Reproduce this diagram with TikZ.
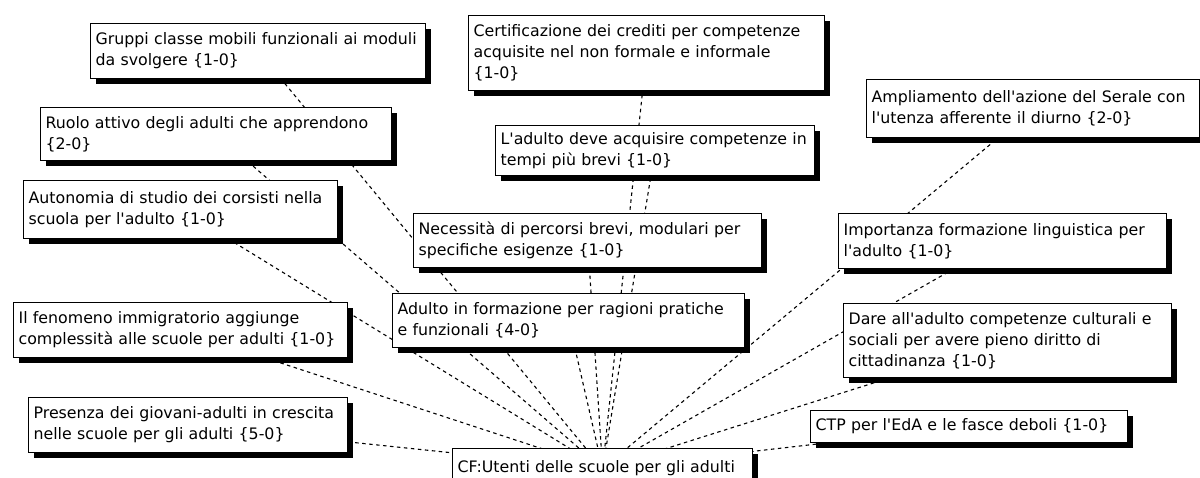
\documentclass[tikz,border=0pt]{standalone}
\usepackage{fontspec}
\setmainfont{DejaVu Sans}
\usetikzlibrary{shadows,backgrounds}
\newcommand\ap{\textquotesingle}
\begin{document}
\begin{tikzpicture}[x=1pt,y=-1pt,
  code/.style={draw=black, line width=1.2pt, fill=white, anchor=north west,
    align=left, inner xsep=5pt, inner ysep=0pt,
    font=\fontsize{15.8}{21}\selectfont,
    general shadow={fill=black, shadow xshift=5pt, shadow yshift=-5pt}},
  link/.style={black, line width=1.1pt, dash pattern=on 3.5pt off 3.5pt}]
\useasboundingbox (0,0) rectangle (1200,477);
\clip (0,0) rectangle (1200,477);

% code family node
\node[code, minimum width=298pt, minimum height=40pt, text width=290pt] (cf) at (452,448)
  {CF:Utenti delle scuole per gli adulti};

% member codes
\node[code, minimum width=331pt, minimum height=55pt, text width=325pt] (gruppi) at (90,23)
  {Gruppi classe mobili funzionali ai moduli\\da svolgere \{1-0\}};
\node[code, minimum width=352pt, minimum height=75pt, text width=346pt] (cert) at (468,15)
  {Certificazione dei crediti per competenze\\acquisite nel non formale e informale\\\{1-0\}};
\node[code, minimum width=347pt, minimum height=53pt, text width=341pt] (ruolo) at (40,107)
  {Ruolo attivo degli adulti che apprendono\\\{2-0\}};
\node[code, minimum width=315pt, minimum height=50pt, text width=309pt] (tempi) at (495,125)
  {L\ap adulto deve acquisire competenze in\\tempi più brevi \{1-0\}};
\node[code, minimum width=329pt, minimum height=58pt, text width=323pt] (serale) at (866,79)
  {Ampliamento dell\ap azione del Serale con\\l\ap utenza afferente il diurno \{2-0\}};
\node[code, minimum width=310pt, minimum height=58pt, text width=304pt] (auto) at (23,180)
  {Autonomia di studio dei corsisti nella\\scuola per l\ap adulto \{1-0\}};
\node[code, minimum width=344pt, minimum height=54pt, text width=338pt] (percorsi) at (413,213)
  {Necessità di percorsi brevi, modulari per\\specifiche esigenze \{1-0\}};
\node[code, minimum width=324pt, minimum height=55pt, text width=318pt] (lingua) at (838,213)
  {Importanza formazione linguistica per\\l\ap adulto \{1-0\}};
\node[code, minimum width=348pt, minimum height=54pt, text width=342pt] (ragioni) at (392,293)
  {Adulto in formazione per ragioni pratiche\\e funzionali \{4-0\}};
\node[code, minimum width=330pt, minimum height=55pt, text width=324pt] (immig) at (13,302)
  {Il fenomeno immigratorio aggiunge\\complessità alle scuole per adulti \{1-0\}};
\node[code, minimum width=324pt, minimum height=74pt, text width=318pt] (citt) at (843,303)
  {Dare all\ap adulto competenze culturali e\\sociali per avere pieno diritto di\\cittadinanza \{1-0\}};
\node[code, minimum width=315pt, minimum height=55pt, text width=309pt] (giovani) at (28,397)
  {Presenza dei giovani-adulti in crescita\\nelle scuole per gli adulti \{5-0\}};
\node[code, minimum width=313pt, minimum height=32pt, text width=307pt] (ctp) at (810,410)
  {CTP per l\ap EdA e le fasce deboli \{1-0\}};

% white canvas and family links, drawn behind the boxes
\begin{scope}[on background layer]
  \fill[white] (0,0) rectangle (1200,477);
  \foreach \n in {gruppi,cert,ruolo,tempi,serale,auto,percorsi,lingua,ragioni,immig,citt,giovani,ctp}
    \draw[link] (\n.center) -- (cf.center);
\end{scope}
\end{tikzpicture}
\end{document}
